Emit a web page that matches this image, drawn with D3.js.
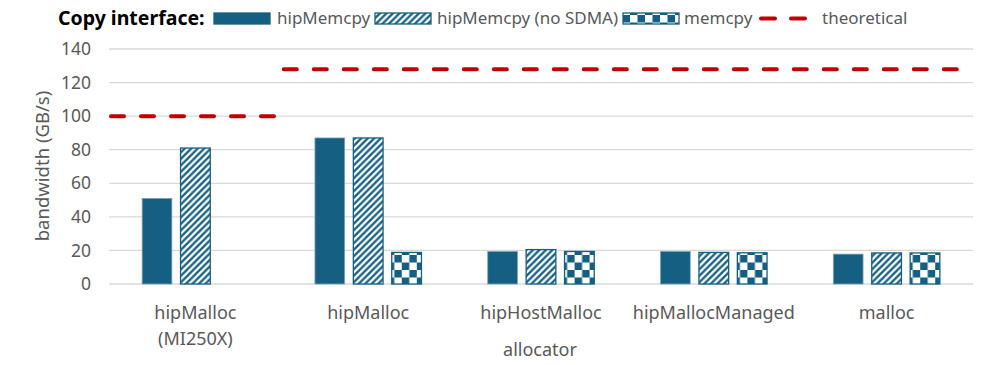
<!DOCTYPE html>
<html>
<head>
<meta charset="utf-8">
<script src="https://cdn.jsdelivr.net/npm/d3@7"></script>
<style>
  body { margin: 0; background: #fff; }
  text { font-family: "Noto Sans", sans-serif; fill: #595959; }
</style>
</head>
<body>
<svg id="chart" width="997" height="365"></svg>
<script>
// data
const categories = ["hipMalloc\n(MI250X)", "hipMalloc", "hipHostMalloc", "hipMallocManaged", "malloc"];
const seriesNames = ["hipMemcpy", "hipMemcpy (no SDMA)", "memcpy"];
const hipMemcpy = [51, 87, 19.4, 19.4, 17.8];
const hipMemcpyNoSdma = [81, 87, 20.5, 18.8, 18.5];
const memcpyVals = [null, 18.8, 19.4, 18.6, 18.5];
const theoretical = [100, 128, 128, 128, 128];
const yTicks = [0, 20, 40, 60, 80, 100, 120, 140];

const blue = "#156082", red = "#c00000", grid = "#d9d9d9";

const svg = d3.select("#chart");
const defs = svg.append("defs");

// wide upward diagonal
const hp = 6.5;
const hatch = defs.append("pattern").attr("id", "hatch").attr("patternUnits", "userSpaceOnUse")
  .attr("width", hp).attr("height", hp);
hatch.append("rect").attr("width", hp).attr("height", hp).attr("fill", blue);
hatch.append("path").attr("d", `M-1,${hp + 1} L${hp + 1},-1 M${-hp / 2},${hp / 2} L${hp / 2},${-hp / 2} M${hp / 2},${hp * 1.5} L${hp * 1.5},${hp / 2}`)
  .attr("stroke", "#fff").attr("stroke-width", 2.3);

// large checkerboard
const cs = 7.5;
const checker = defs.append("pattern").attr("id", "checker").attr("patternUnits", "userSpaceOnUse")
  .attr("width", cs * 2).attr("height", cs * 2);
checker.append("rect").attr("width", cs * 2).attr("height", cs * 2).attr("fill", "#fff");
checker.append("rect").attr("x", cs).attr("width", cs).attr("height", cs).attr("fill", blue);
checker.append("rect").attr("y", cs).attr("width", cs).attr("height", cs).attr("fill", blue);

const fills = { "hipMemcpy": blue, "hipMemcpy (no SDMA)": "url(#hatch)", "memcpy": "url(#checker)" };
const strokes = { "hipMemcpy": "#7ea3b8", "hipMemcpy (no SDMA)": blue, "memcpy": blue };

const x0 = d3.scaleBand().domain(categories).range([109, 973]);
const x1 = d3.scaleBand().domain(seriesNames).range([0, x0.bandwidth()]).paddingInner(0.2).paddingOuter(0.85);
const y = d3.scaleLinear().domain([0, 140]).range([284, 49]);

// grid
svg.append("g").selectAll("line").data(yTicks).join("line")
  .attr("x1", 109).attr("x2", 973)
  .attr("y1", d => y(d)).attr("y2", d => y(d))
  .attr("stroke", grid).attr("stroke-width", 1.3);

// y axis labels
const yAxis = svg.append("g").attr("transform", "translate(99,0)")
  .call(d3.axisLeft(y).tickValues(yTicks).tickSize(0).tickPadding(8));
yAxis.select(".domain").remove();
yAxis.selectAll("text").attr("font-size", 17.5).attr("font-family", null).attr("fill", null);

svg.append("text").attr("transform", "translate(49,166) rotate(-90)")
  .attr("text-anchor", "middle").attr("font-size", 18.5).text("bandwidth (GB/s)");

// bars
const rows = categories.map((c, i) => ({
  cat: c,
  vals: [
    { key: seriesNames[0], v: hipMemcpy[i] },
    { key: seriesNames[1], v: hipMemcpyNoSdma[i] },
    { key: seriesNames[2], v: memcpyVals[i] }
  ].filter(d => d.v != null)
}));

svg.append("g").selectAll("g").data(rows).join("g")
  .attr("transform", d => `translate(${x0(d.cat)},0)`)
  .selectAll("rect").data(d => d.vals).join("rect")
  .attr("x", d => x1(d.key) + 0.5)
  .attr("width", x1.bandwidth() - 1)
  .attr("y", d => y(d.v))
  .attr("height", d => y(0) - y(d.v))
  .attr("fill", d => fills[d.key])
  .attr("stroke", d => strokes[d.key])
  .attr("stroke-width", d => d.key === "hipMemcpy" ? 0.8 : 1.3);

// theoretical line, joined where the value stays the same
const runs = [];
categories.forEach((c, i) => {
  const last = runs[runs.length - 1];
  if (last && last.v === theoretical[i]) last.end = c;
  else runs.push({ start: c, end: c, v: theoretical[i] });
});
svg.append("g").selectAll("line").data(runs).join("line")
  .attr("x1", d => x0(d.start) + 2)
  .attr("x2", d => x0(d.end) + x0.bandwidth() - 4)
  .attr("y1", d => y(d.v)).attr("y2", d => y(d.v))
  .attr("stroke", red).attr("stroke-width", 4)
  .attr("stroke-linecap", "round").attr("stroke-dasharray", "13,17");

// x labels
const xl = svg.append("g").selectAll("text").data(categories).join("text")
  .attr("x", d => x0(d) + x0.bandwidth() / 2)
  .attr("y", 319).attr("text-anchor", "middle").attr("font-size", 18);
xl.selectAll("tspan").data(d => d.split("\n")).join("tspan")
  .attr("x", function () { return d3.select(this.parentNode).attr("x"); })
  .attr("dy", (d, i) => i === 0 ? 0 : 26).text(d => d);

svg.append("text").attr("x", 540).attr("y", 356).attr("text-anchor", "middle")
  .attr("font-size", 18).text("allocator");

// legend
const leg = svg.append("g");
leg.append("text").attr("x", 58).attr("y", 25).attr("font-size", 19.5).attr("font-weight", "bold")
  .style("fill", "#000").text("Copy interface:");
const legItems = [
  { key: "hipMemcpy", x: 214, tx: 277 },
  { key: "hipMemcpy (no SDMA)", x: 375, tx: 437 },
  { key: "memcpy", x: 623, tx: 684 }
];
leg.selectAll("rect").data(legItems).join("rect")
  .attr("x", d => d.x).attr("y", 13).attr("width", 56).attr("height", 11)
  .attr("fill", d => fills[d.key]).attr("stroke", blue).attr("stroke-width", 1.3);
leg.selectAll("text.li").data(legItems).join("text").attr("class", "li")
  .attr("x", d => d.tx).attr("y", 24).attr("font-size", 17).text(d => d.key);
leg.append("line").attr("x1", 761).attr("x2", 805).attr("y1", 18.5).attr("y2", 18.5)
  .attr("stroke", red).attr("stroke-width", 4).attr("stroke-linecap", "round")
  .attr("stroke-dasharray", "14,16");
leg.append("text").attr("x", 822).attr("y", 24).attr("font-size", 17).text("theoretical");
</script>
</body>
</html>
